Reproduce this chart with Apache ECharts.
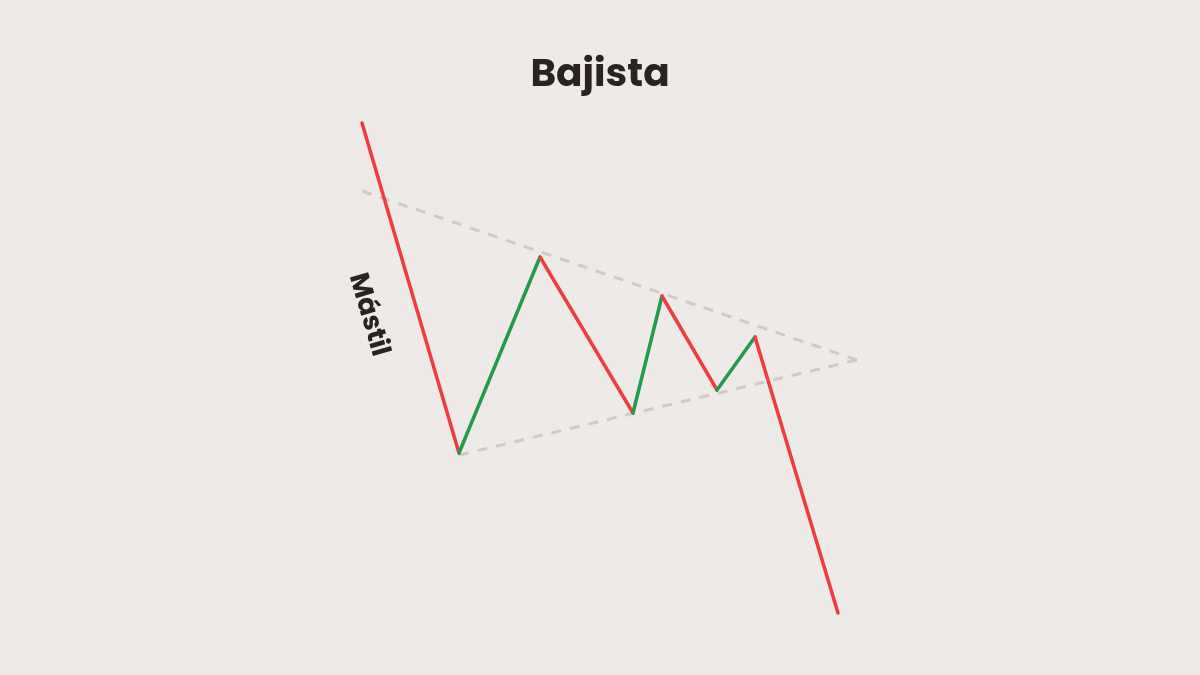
<!DOCTYPE html>
<html>
<head>
<meta charset="utf-8">
<script src="https://cdn.jsdelivr.net/npm/echarts@6/dist/echarts.min.js"></script>
<style>
html,body{margin:0;padding:0;background:#EEEAE7;}
#chart{width:1200px;height:675px;}
</style>
</head>
<body>
<div id="chart"></div>
<script>
// Price path (time index on x, price on y)
const pathX = [362, 459, 540, 633, 662, 717, 755, 838];
const pathY = [552, 222, 418, 262, 379, 285, 338, 62];
// Trend lines of the pennant
const upperLineX = [362, 857];
const upperLineY = [484, 315];
const lowerLineX = [459, 857];
const lowerLineY = [220, 315];

const titleText = 'Bajista';
const poleLabel = 'Mástil';

const RED = '#EF3C3E';
const GREEN = '#219C4A';
const DASH = '#CFCBC8';

const series = [];
series.push({
  type: 'line', data: upperLineX.map((x, i) => [x, upperLineY[i]]),
  symbol: 'none', silent: true, z: 1,
  lineStyle: { color: DASH, width: 3, type: [10, 9] }
});
series.push({
  type: 'line', data: lowerLineX.map((x, i) => [x, lowerLineY[i]]),
  symbol: 'none', silent: true, z: 1,
  lineStyle: { color: DASH, width: 3, type: [10, 9] }
});
for (let i = 0; i < pathX.length - 1; i++) {
  const up = pathY[i + 1] > pathY[i];
  series.push({
    type: 'line',
    data: [[pathX[i], pathY[i]], [pathX[i + 1], pathY[i + 1]]],
    symbol: 'none', silent: true, z: 3,
    lineStyle: { color: up ? GREEN : RED, width: 3.5, cap: 'round', join: 'round' }
  });
}

const chart = echarts.init(document.getElementById('chart'));
chart.setOption({
  backgroundColor: '#EEEAE7',
  animation: false,
  title: {
    text: titleText, left: 'center', top: 52,
    textStyle: { fontFamily: 'Poppins, Lato, sans-serif', fontWeight: 'bold', fontSize: 39, color: '#2A231F' }
  },
  grid: { left: 0, right: 0, top: 0, bottom: 0 },
  xAxis: { type: 'value', min: 0, max: 1200, show: false },
  yAxis: { type: 'value', min: 0, max: 675, show: false },
  series: series,
  graphic: [{
    type: 'text', x: 368, y: 315, rotation: -1.285,
    style: {
      text: poleLabel, fontFamily: 'Poppins, Lato, sans-serif', fontWeight: 'bold', fontSize: 27,
      fill: '#2A231F', align: 'center', verticalAlign: 'middle'
    }
  }]
});
</script>
</body>
</html>
